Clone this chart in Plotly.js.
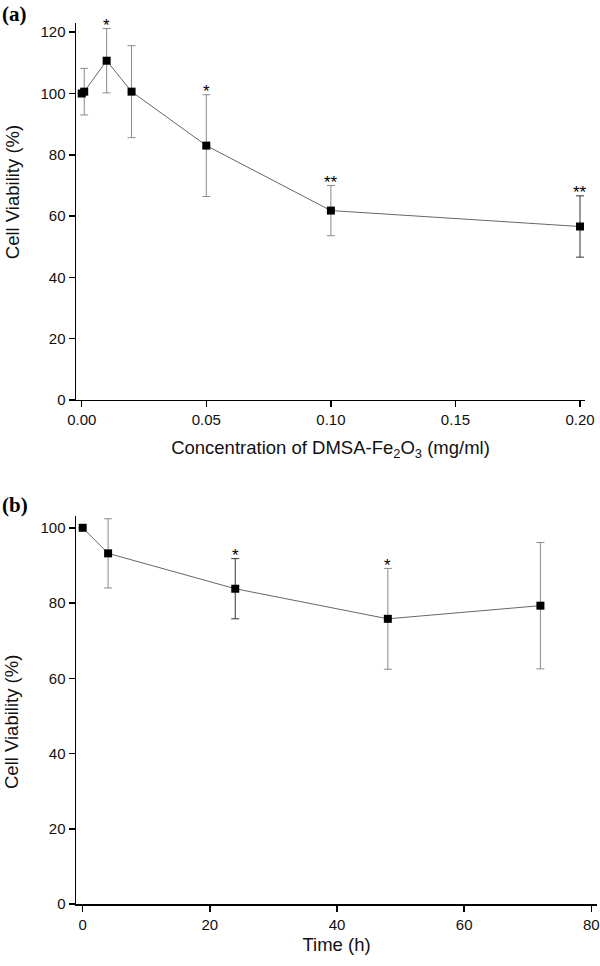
<!DOCTYPE html>
<html>
<head>
<meta charset="utf-8">
<script src="https://cdn.plot.ly/plotly-3.0.1.min.js"></script>
<style>html,body{margin:0;padding:0;background:#fff;}#chart{width:600px;height:966px;}</style>
</head>
<body>
<div id="chart"></div>
<script>
// Panel (a): concentration series
var concA = [0, 0.001, 0.01, 0.02, 0.05, 0.10, 0.20];
var viabA = [100, 100.6, 110.7, 100.6, 83.0, 61.8, 56.6];
var errA  = [0, 7.6, 10.5, 15.0, 16.6, 8.2, 10.0];
var darkA = [false, false, false, false, false, false, true];
var sigA  = ['', '', '*', '', '*', '**', '**'];
var xTicksA = [0, 0.05, 0.10, 0.15, 0.20];
var yTicksA = [0, 20, 40, 60, 80, 100, 120];

// Panel (b): time series
var timeB = [0, 4, 24, 48, 72];
var viabB = [100, 93.2, 83.8, 75.8, 79.3];
var errB  = [0, 9.2, 8.0, 13.4, 16.8];
var darkB = [false, false, true, false, false];
var sigB  = ['', '', '*', '*', ''];
var xTicksB = [0, 20, 40, 60, 80];
var yTicksB = [0, 20, 40, 60, 80, 100];

var FONT = 'Liberation Sans, Arial, sans-serif';

function pick(arr, mask, want) {
  return arr.filter(function (v, i) { return mask[i] === want; });
}

function errTrace(xs, ys, es, mask, want, color, xa, ya) {
  return {
    type: 'scatter', mode: 'markers',
    x: pick(xs, mask, want), y: pick(ys, mask, want),
    xaxis: xa, yaxis: ya,
    marker: {size: 1, opacity: 0},
    error_y: {type: 'data', array: pick(es, mask, want), visible: true,
              color: color, thickness: 1, width: 4},
    showlegend: false, hoverinfo: 'skip'
  };
}

function mainTrace(xs, ys, xa, ya) {
  return {
    type: 'scatter', mode: 'lines+markers',
    x: xs, y: ys, xaxis: xa, yaxis: ya,
    line: {color: '#666', width: 1},
    marker: {symbol: 'square', size: 8, color: '#000'},
    showlegend: false, cliponaxis: false
  };
}

function sigAnnotations(xs, ys, es, labels, xa, ya) {
  var out = [];
  labels.forEach(function (lab, i) {
    if (!lab) return;
    out.push({
      text: lab, xref: xa, yref: ya, x: xs[i], y: ys[i] + es[i],
      xanchor: 'center', yanchor: 'middle', yshift: 3, showarrow: false,
      font: {family: FONT, size: 17, color: '#000'}
    });
  });
  return out;
}

var data = [
  errTrace(concA, viabA, errA, darkA, false, '#8a8a8a', 'x', 'y'),
  errTrace(concA, viabA, errA, darkA, true, '#333', 'x', 'y'),
  mainTrace(concA, viabA, 'x', 'y'),
  errTrace(timeB, viabB, errB, darkB, false, '#8a8a8a', 'x2', 'y2'),
  errTrace(timeB, viabB, errB, darkB, true, '#333', 'x2', 'y2'),
  mainTrace(timeB, viabB, 'x2', 'y2')
];

var TITLE_FONT = {family: FONT, size: 18.5, color: '#111'};

var axisCommon = {
  showline: true, linecolor: '#000', linewidth: 1.5,
  ticks: 'outside', ticklen: 6, tickwidth: 1.5, tickcolor: '#000',
  showgrid: false, zeroline: false,
  tickfont: {family: FONT, size: 15, color: '#111'}
};

function ax(extra) { return Object.assign({}, axisCommon, extra); }

var textAnn = [
  {text: '<b>(a)</b>', xref: 'paper', yref: 'paper', x: -0.1459, y: 1.026,
   xanchor: 'left', yanchor: 'top', showarrow: false,
   font: {family: 'Liberation Serif, Times New Roman, serif', size: 21, color: '#000'}},
  {text: '<b>(b)</b>', xref: 'paper', yref: 'paper', x: -0.1459, y: 0.4688,
   xanchor: 'left', yanchor: 'top', showarrow: false,
   font: {family: 'Liberation Serif, Times New Roman, serif', size: 21, color: '#000'}},
  {text: 'Cell Viability (%)', xref: 'paper', yref: 'paper', x: -0.1228, y: 0.808,
   xanchor: 'center', yanchor: 'middle', textangle: -90, showarrow: false,
   font: TITLE_FONT},
  {text: 'Cell Viability (%)', xref: 'paper', yref: 'paper', x: -0.1228, y: 0.2066,
   xanchor: 'center', yanchor: 'middle', textangle: -90, showarrow: false,
   font: TITLE_FONT}
];

var layout = {
  width: 600, height: 966,
  margin: {l: 76, r: 3, t: 23, b: 62},
  paper_bgcolor: '#fff', plot_bgcolor: '#fff',
  showlegend: false,
  xaxis: ax({domain: [0, 0.977], range: [-0.0023, 0.202], tickvals: xTicksA,
             tickformat: '.2f', anchor: 'y',
             title: {text: 'Concentration of DMSA-Fe<sub>2</sub>O<sub>3</sub> (mg/ml)',
                     font: TITLE_FONT, standoff: 13}}),
  yaxis: ax({domain: [0.5721, 1], range: [0, 123], tickvals: yTicksA, anchor: 'x'}),
  xaxis2: ax({domain: [0, 1], range: [-1.05, 80.9], tickvals: xTicksB, anchor: 'y2',
              title: {text: 'Time (h)', font: TITLE_FONT, standoff: 6}}),
  yaxis2: ax({domain: [0, 0.4407], range: [0, 103.2], tickvals: yTicksB, anchor: 'x2'}),
  annotations: textAnn
    .concat(sigAnnotations(concA, viabA, errA, sigA, 'x', 'y'))
    .concat(sigAnnotations(timeB, viabB, errB, sigB, 'x2', 'y2'))
};

Plotly.newPlot('chart', data, layout, {staticPlot: true, displayModeBar: false});
</script>
</body>
</html>
